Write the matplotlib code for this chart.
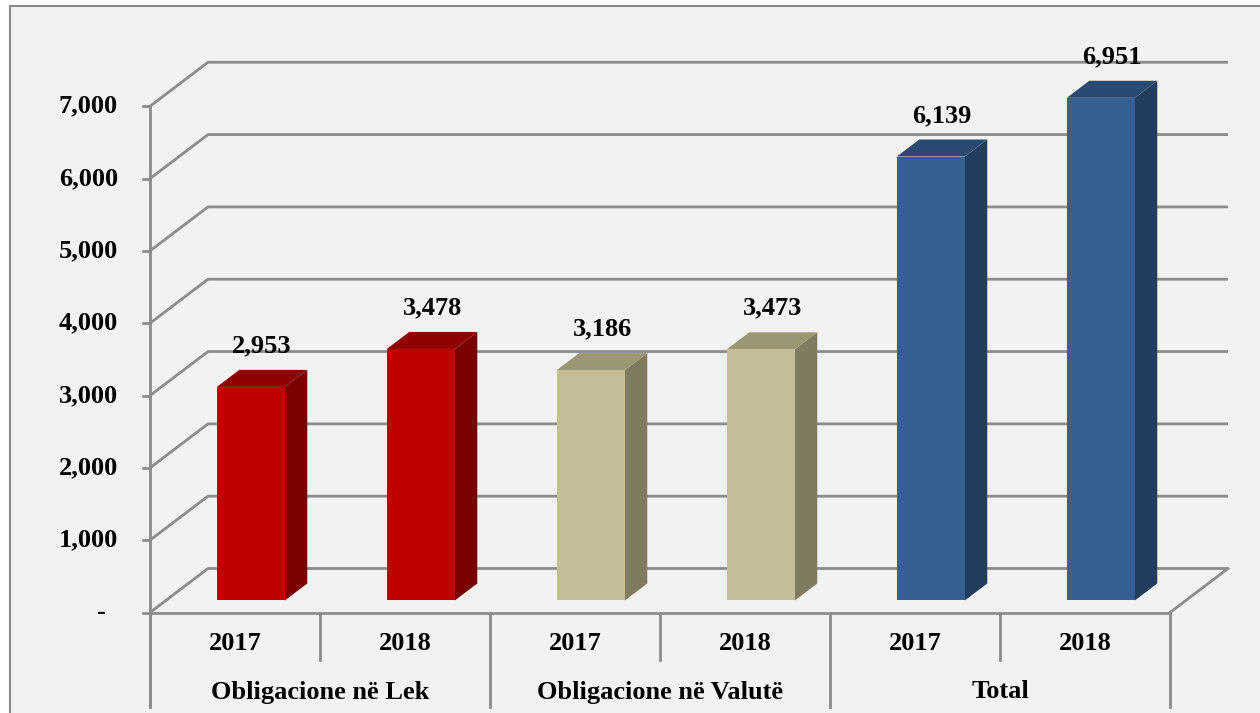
import matplotlib
matplotlib.use("Agg")
import matplotlib.pyplot as plt
from matplotlib.patches import Rectangle, Polygon

# ---- data ----
groups = ["Obligacione në Lek", "Obligacione në Valutë", "Total"]
years = ["2017", "2018"]
values = [2953, 3478, 3186, 3473, 6139, 6951]
value_labels = ["2,953", "3,478", "3,186", "3,473", "6,139", "6,951"]
yticks = [0, 1000, 2000, 3000, 4000, 5000, 6000, 7000]
ytick_labels = ["-", "1,000", "2,000", "3,000", "4,000", "5,000", "6,000", "7,000"]

front_colors = ["#C00000", "#C00000", "#C4BD97", "#C4BD97", "#366092", "#366092"]
side_colors = ["#7A0000", "#7A0000", "#7F7B60", "#7F7B60", "#233D5E", "#233D5E"]
top_colors = ["#900000", "#900000", "#9B9674", "#9B9674", "#2B4A72", "#2B4A72"]

W, H = 1260, 713
fig = plt.figure(figsize=(W / 100, H / 100), dpi=100)
fig.patch.set_facecolor("white")

# chart area background with border
fig.patches.append(Rectangle((10 / W, -0.1), 1.2, (H - 6) / H + 0.1, transform=fig.transFigure,
                             facecolor="#F2F2F2", edgecolor="#8A8A8A", linewidth=1.5, zorder=-5))

ax = fig.add_axes([0, 0, 1, 1])
ax.set_axis_off()
px_per_cat = 170.0
px_per_val = 0.07232
x0_px, y0_px = 150.0, 612.5
ax.set_xlim(-x0_px / px_per_cat, (W - x0_px) / px_per_cat)
ax.set_ylim((y0_px - H) / px_per_val, y0_px / px_per_val)

def vy(py):  # pixel-from-top -> value units
    return (y0_px - py) / px_per_val

def cx(px):
    return (px - x0_px) / px_per_cat

DX = 58 / px_per_cat
DY = 44 / px_per_val
n = len(values)
grid_c = "#8C8C8C"
lw = 2.0

# back wall gridlines + left wall diagonals
for v in yticks:
    ax.plot([0, DX, n + DX], [v, v + DY, v + DY], color=grid_c, lw=lw, zorder=1,
            solid_capstyle="butt")
# floor right diagonal
ax.plot([n, n + DX], [0, DY], color=grid_c, lw=lw, zorder=1)

# bars
d0, d1 = 0.273, 0.66
bw = 0.4
font = dict(family="Liberation Serif", weight="bold", size=19)
for i, v in enumerate(values):
    c = i + 0.5
    xl0 = c - bw / 2 + d0 * DX
    xr0 = c + bw / 2 + d0 * DX
    xl1 = c - bw / 2 + d1 * DX
    xr1 = c + bw / 2 + d1 * DX
    yb0, yb1 = d0 * DY, d1 * DY
    ax.add_patch(Polygon([(xr0, yb0), (xr1, yb1), (xr1, v + yb1), (xr0, v + yb0)],
                         closed=True, facecolor=side_colors[i], edgecolor="none", zorder=3))
    ax.add_patch(Polygon([(xl0, v + yb0), (xr0, v + yb0), (xr1, v + yb1), (xl1, v + yb1)],
                         closed=True, facecolor=top_colors[i], edgecolor="none", zorder=3))
    ax.add_patch(Rectangle((xl0, yb0), bw, v, facecolor=front_colors[i],
                           edgecolor="none", zorder=4))
    ax.text(c + (d0 + d1) / 2 * DX, v + yb1 + 24 / px_per_val, value_labels[i],
            ha="center", va="center", zorder=5, **font)

# front floor edge and y axis
ax.plot([0, n], [0, 0], color=grid_c, lw=lw, zorder=2)
ax.plot([0, 0], [yticks[-1], vy(706)], color=grid_c, lw=lw, zorder=2)
for v, lab in zip(yticks, ytick_labels):
    ax.plot([cx(143), 0], [v, v], color=grid_c, lw=lw, zorder=2)
    if lab == "-":
        ax.text(cx(101), v, lab, ha="center", va="center", **font)
    else:
        ax.text(cx(118), v, lab, ha="right", va="center", **font)

# category separators
for k in range(n + 1):
    bottom = vy(707) if k % 2 == 0 else vy(660)
    ax.plot([k, k], [0, bottom], color=grid_c, lw=lw, zorder=2)

# year labels and group labels
for i in range(n):
    ax.text(i + 0.5, vy(643), years[i % 2], ha="center", va="center", **font)
for g, name in enumerate(groups):
    ax.text(2 * g + 1, vy(692), name, ha="center", va="center", **font)

fig.savefig("out.png", dpi=100, facecolor=fig.get_facecolor())
